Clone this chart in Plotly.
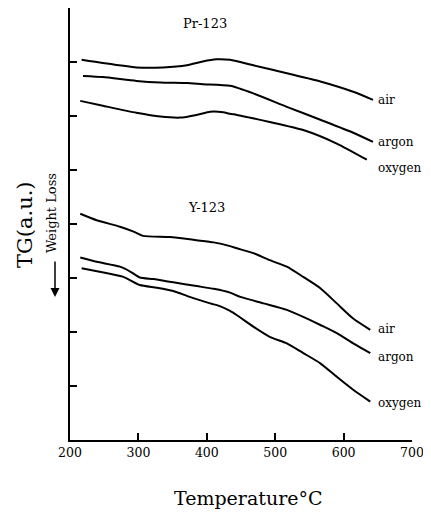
import plotly.graph_objects as go

# Temperature (°C) and TG (arbitrary units)
pr_air_t = [217, 248, 297, 336, 371, 394, 414, 434, 468, 517, 566, 614, 643]
pr_air_v = [7.04, 6.98, 6.90, 6.90, 6.94, 7.01, 7.05, 7.04, 6.94, 6.79, 6.64, 6.45, 6.30]

pr_argon_t = [219, 248, 297, 332, 371, 394, 434, 468, 517, 566, 614, 643]
pr_argon_v = [6.74, 6.72, 6.65, 6.62, 6.61, 6.59, 6.56, 6.42, 6.17, 5.93, 5.69, 5.52]

pr_oxygen_t = [215, 248, 297, 332, 361, 385, 405, 424, 434, 444, 492, 541, 590, 634]
pr_oxygen_v = [6.28, 6.19, 6.06, 5.99, 5.97, 6.02, 6.08, 6.07, 6.04, 6.02, 5.89, 5.74, 5.49, 5.19]

y_air_t = [215, 239, 273, 293, 307, 346, 385, 410, 434, 444, 468, 492, 517, 541, 566, 590, 614, 639]
y_air_v = [4.19, 4.07, 3.95, 3.86, 3.78, 3.76, 3.70, 3.66, 3.59, 3.55, 3.46, 3.33, 3.21, 3.02, 2.81, 2.53, 2.25, 2.04]

y_argon_t = [215, 239, 273, 288, 302, 322, 351, 385, 410, 434, 449, 483, 517, 541, 566, 590, 614, 639]
y_argon_v = [3.38, 3.30, 3.21, 3.12, 3.01, 2.98, 2.92, 2.85, 2.80, 2.73, 2.65, 2.53, 2.41, 2.28, 2.13, 1.98, 1.79, 1.61]

y_oxygen_t = [217, 249, 278, 302, 327, 351, 375, 405, 419, 434, 444, 468, 492, 517, 541, 566, 590, 614, 639]
y_oxygen_v = [3.18, 3.10, 3.02, 2.87, 2.82, 2.76, 2.65, 2.53, 2.48, 2.39, 2.31, 2.10, 1.91, 1.79, 1.61, 1.42, 1.17, 0.93, 0.71]

x_ticks = [200, 300, 400, 500, 600, 700]
series_labels = ["air", "argon", "oxygen"]
group_labels = ["Pr-123", "Y-123"]

SERIF = "DejaVu Serif, serif"

# plot-area size in pixels (used to place texts outside the axes)
PW, PH = 342, 432

fig = go.Figure()
for t, v in [(pr_air_t, pr_air_v), (pr_argon_t, pr_argon_v), (pr_oxygen_t, pr_oxygen_v),
             (y_air_t, y_air_v), (y_argon_t, y_argon_v), (y_oxygen_t, y_oxygen_v)]:
    fig.add_trace(go.Scatter(x=t, y=v, mode="lines",
                             line=dict(color="black", width=2, shape="spline", smoothing=0.6),
                             showlegend=False, hoverinfo="skip"))

# curve-end labels
pr_label_y = [6.30, 5.52, 5.03]
y_label_y = [2.06, 1.54, 0.69]
lab_font = dict(family=SERIF, size=12, color="black")
annotations = []
for lab, yv in zip(series_labels, pr_label_y):
    annotations.append(dict(x=648, y=yv, xref="x", yref="y", text=lab, showarrow=False,
                            xanchor="left", yanchor="middle", font=lab_font))
for lab, yv in zip(series_labels, y_label_y):
    annotations.append(dict(x=648, y=yv, xref="x", yref="y", text=lab, showarrow=False,
                            xanchor="left", yanchor="middle", font=lab_font))
annotations.append(dict(x=397, y=7.72, xref="x", yref="y", text=group_labels[0], showarrow=False,
                        xanchor="center", yanchor="middle", font=dict(family=SERIF, size=13, color="black")))
annotations.append(dict(x=400, y=4.31, xref="x", yref="y", text=group_labels[1], showarrow=False,
                        xanchor="center", yanchor="middle", font=dict(family=SERIF, size=13, color="black")))
# axis titles (positions relative to plot area, in px)
annotations.append(dict(x=(248 - 70) / PW, y=(440 - 498) / PH, xref="paper", yref="paper",
                        text="Temperature°C", showarrow=False, xanchor="center", yanchor="middle",
                        font=dict(family=SERIF, size=19, color="black")))
annotations.append(dict(x=(25 - 70) / PW, y=(440 - 225) / PH, xref="paper", yref="paper",
                        text="TG(a.u.)", showarrow=False, textangle=-90, xanchor="center", yanchor="middle",
                        font=dict(family=SERIF, size=21, color="black")))
annotations.append(dict(x=(51 - 70) / PW, y=(440 - 213) / PH, xref="paper", yref="paper",
                        text="Weight Loss", showarrow=False, textangle=-90, xanchor="center", yanchor="middle",
                        font=dict(family=SERIF, size=13, color="black")))
# downward arrow of "Weight Loss"
annotations.append(dict(x=(55 - 70) / PW, y=(440 - 297) / PH, xref="paper", yref="paper",
                        text="", showarrow=True, ax=0, ay=-37, arrowhead=2, arrowsize=1.2,
                        arrowwidth=1.5, arrowcolor="black"))

# the page shifts the figure by the body's 8 px margin; margins compensate for that
fig.update_layout(
    width=431, height=505,
    margin=dict(l=62, r=27, t=0, b=73, autoexpand=False),
    paper_bgcolor="white", plot_bgcolor="white",
    annotations=annotations,
    xaxis=dict(range=[200, 700], tickvals=x_ticks, ticktext=[str(v) for v in x_ticks],
               showgrid=False, zeroline=False, showline=True, linecolor="black", linewidth=2,
               ticks="inside", ticklen=7, tickwidth=1.5, tickcolor="black",
               tickfont=dict(family=SERIF, size=12.5, color="black")),
    yaxis=dict(range=[0, 8], tickvals=list(range(0, 9)), showticklabels=False,
               showgrid=False, zeroline=False, showline=True, linecolor="black", linewidth=2,
               ticks="inside", ticklen=7, tickwidth=1.5, tickcolor="black"),
)

fig.write_html("out.html")
